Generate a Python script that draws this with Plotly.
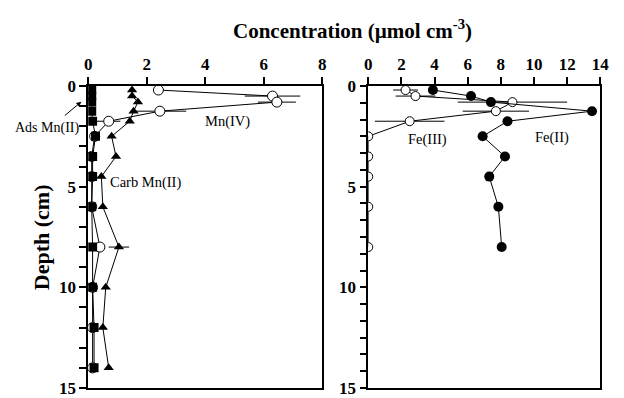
import plotly.graph_objects as go

# ---- data ----
depth = [0.2, 0.5, 0.8, 1.25, 1.75, 2.5, 3.5, 4.5, 6, 8, 10, 12, 14]
mn4 = [2.4, 6.3, 6.45, 2.45, 0.7, 0.22, 0.12, 0.12, 0.12, 0.4, 0.15, 0.15, 0.15]
mn4_err = [0, 0.95, 0.65, 0.9, 0.4, 0, 0, 0, 0, 0, 0, 0, 0]
carb_mn2 = [1.5, 1.5, 1.7, 1.55, 1.42, 0.8, 0.95, 0.45, 0.5, 1.05, 0.6, 0.5, 0.7]
carb_err = [0, 0, 0, 0, 0, 0, 0, 0, 0, 0.35, 0, 0, 0]
ads_mn2 = [0.12, 0.12, 0.12, 0.12, 0.15, 0.25, 0.15, 0.15, 0.12, 0.15, 0.15, 0.2, 0.2]

fe_depth = [0.2, 0.5, 0.8, 1.25, 1.75, 2.5, 3.5, 4.5, 6, 8]
fe2 = [3.9, 6.2, 7.4, 13.5, 8.4, 6.9, 8.25, 7.3, 7.85, 8.05]
fe2_err = [0, 0, 0, 0.3, 0, 0, 0, 0, 0, 0]
fe3 = [2.25, 2.85, 8.7, 7.7, 2.5, 0, 0, 0, 0, 0]
fe3_err = [0.75, 1.2, 3.3, 2.0, 2.1, 0, 0, 0, 0, 0]

left_x_ticks = [0, 2, 4, 6, 8]
right_x_ticks = [0, 2, 4, 6, 8, 10, 12, 14]
# depth ticks: labelled every 5 cm; unlabelled minor ticks (1 cm left, 5/6 cm right)
left_depth_ticks = list(range(0, 16))
right_depth_ticks = [i * 5 / 6 for i in range(0, 19)]


def depth_labels(vals):
    out = []
    for v in vals:
        r = round(v, 6)
        out.append(str(int(r)) if abs(r % 5) < 1e-6 else "")
    return out


FONT = "Liberation Serif"
line = dict(color="black", width=1)

# pixel geometry of the two panels (used to put tick stubs just outside the frame)
PLOT_H = 398 - 86 - 5
LEFT_W = 325 - 86
RIGHT_W = 609 - 372
TICK_PX = 3.5


def ebar(e):
    return dict(type="data", array=e, visible=True, color="black", thickness=1, width=0)


fig = go.Figure()
fig.add_trace(go.Scatter(x=mn4, y=depth, mode="lines+markers", line=line,
                         marker=dict(symbol="circle", size=10, color="white",
                                     line=dict(color="black", width=1)),
                         error_x=ebar(mn4_err), xaxis="x", yaxis="y"))
fig.add_trace(go.Scatter(x=carb_mn2, y=depth, mode="lines+markers", line=line,
                         marker=dict(symbol="triangle-up", size=9, color="black"),
                         error_x=ebar(carb_err), xaxis="x", yaxis="y"))
fig.add_trace(go.Scatter(x=ads_mn2, y=depth, mode="lines+markers", line=line,
                         marker=dict(symbol="square", size=9, color="black"),
                         xaxis="x", yaxis="y"))
fig.add_trace(go.Scatter(x=fe3, y=fe_depth, mode="lines+markers", line=line,
                         marker=dict(symbol="circle", size=9, color="white",
                                     line=dict(color="black", width=1)),
                         error_x=ebar(fe3_err), xaxis="x2", yaxis="y2"))
fig.add_trace(go.Scatter(x=fe2, y=fe_depth, mode="lines+markers", line=line,
                         marker=dict(symbol="circle", size=10, color="black"),
                         error_x=ebar(fe2_err), xaxis="x2", yaxis="y2"))

# tick stubs drawn as line markers just outside the frames
tick_mk_v = dict(symbol="line-ns-open", size=7, line=dict(color="black", width=1.5))
tick_mk_h = dict(symbol="line-ew-open", size=7, line=dict(color="black", width=1.5))
dy = TICK_PX / PLOT_H * 15
fig.add_trace(go.Scatter(x=left_x_ticks, y=[-dy] * len(left_x_ticks), mode="markers",
                         marker=tick_mk_v, cliponaxis=False, hoverinfo="skip",
                         xaxis="x", yaxis="y"))
fig.add_trace(go.Scatter(x=right_x_ticks, y=[-dy] * len(right_x_ticks), mode="markers",
                         marker=tick_mk_v, cliponaxis=False, hoverinfo="skip",
                         xaxis="x2", yaxis="y2"))
fig.add_trace(go.Scatter(x=[-TICK_PX / LEFT_W * 8] * len(left_depth_ticks), y=left_depth_ticks,
                         mode="markers", marker=tick_mk_h, cliponaxis=False, hoverinfo="skip",
                         xaxis="x", yaxis="y"))
fig.add_trace(go.Scatter(x=[-TICK_PX / RIGHT_W * 14] * len(right_depth_ticks),
                         y=right_depth_ticks, mode="markers", marker=tick_mk_h,
                         cliponaxis=False, hoverinfo="skip", xaxis="x2", yaxis="y2"))

tickfont = dict(family=FONT, size=17, color="black", weight="bold")
common_x = dict(side="top", showline=True, linecolor="black", linewidth=1.5, mirror=True,
                ticks="outside", ticklen=7, tickwidth=1.5, tickcolor="black", showgrid=False,
                zeroline=False, tickfont=tickfont, tickmode="linear", tick0=0, dtick=2)
common_y = dict(showline=True, linecolor="black", linewidth=1.5, mirror=True,
                ticks="outside", ticklen=7, tickwidth=1.5, tickcolor="black", showgrid=False,
                zeroline=False, tickfont=tickfont, range=[15, 0],
                tickmode="array", ticklabeloverflow="allow")

fig.update_layout(
    width=624, height=398, showlegend=False,
    paper_bgcolor="white", plot_bgcolor="white",
    margin=dict(l=0, r=0, t=86, b=5),
    xaxis=dict(**common_x, domain=[86/624, 325/624], range=[0, 8], anchor="y"),
    yaxis=dict(**common_y, anchor="x", tickvals=left_depth_ticks,
               ticktext=depth_labels(left_depth_ticks)),
    xaxis2=dict(**common_x, domain=[372/624, 609/624], range=[0, 14], anchor="y2"),
    yaxis2=dict(**common_y, anchor="x2", tickvals=right_depth_ticks,
                ticktext=depth_labels(right_depth_ticks)),
    annotations=[
        dict(text="<b>Concentration (µmol cm<sup>-3</sup>)</b>", x=356/624, y=1, xref="paper",
             yref="paper", yshift=57, xanchor="center", yanchor="middle", showarrow=False,
             font=dict(family=FONT, size=21, color="black")),
        dict(text="<b>Depth (cm)</b>", x=38/624, y=0.5, xref="paper", yref="paper",
             xanchor="center", yanchor="middle", textangle=-90, showarrow=False,
             font=dict(family=FONT, size=22, color="black")),
        dict(text="Mn(IV)", x=4.75, y=1.75, xref="x", yref="y", showarrow=False,
             font=dict(family=FONT, size=14.5, color="black")),
        dict(text="Carb Mn(II)", x=1.97, y=4.8, xref="x", yref="y", showarrow=False,
             font=dict(family=FONT, size=14.5, color="black")),
        dict(text="Ads Mn(II)", x=44/624, y=(393 - 129) / 307, xref="paper", yref="paper",
             xanchor="center", yanchor="middle", showarrow=False,
             font=dict(family=FONT, size=14, color="black")),
        dict(text="", x=79/624, y=(393 - 102) / 307, xref="paper", yref="paper",
             ax=-18, ay=15, showarrow=True,
             arrowhead=2, arrowsize=1, arrowwidth=1, arrowcolor="black"),
        dict(text="Fe(III)", x=3.6, y=2.65, xref="x2", yref="y2", showarrow=False,
             font=dict(family=FONT, size=14.5, color="black")),
        dict(text="Fe(II)", x=11.1, y=2.55, xref="x2", yref="y2", showarrow=False,
             font=dict(family=FONT, size=14.5, color="black")),
    ],
)

fig.write_html("out.html")
